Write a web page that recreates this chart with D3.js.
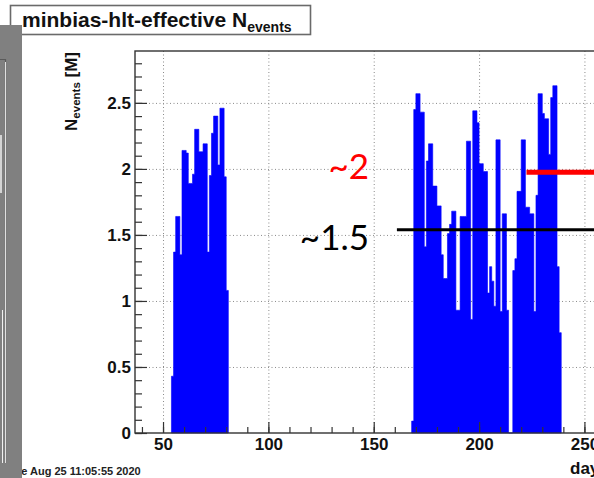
<!DOCTYPE html>
<html>
<head>
<meta charset="utf-8">
<script src="https://cdn.jsdelivr.net/npm/d3@7"></script>
<style>
  body { margin: 0; background: #fff; }
  svg { display: block; }
  text { font-family: "Liberation Sans", Arial, Helvetica, sans-serif; font-weight: bold; }
  text.note { font-family: Lato, "Open Sans", sans-serif; font-weight: normal; }
</style>
</head>
<body>
<div id="chart"></div>
<script>
// per-day N_events [M], two running periods
var run1Start = 54;
var run1Values = [0.43, 1.37, 1.64, 1.64, 1.35, 2.14, 2.14, 2.12, 1.89, 1.89, 1.96, 2.30, 2.30, 2.13,
                  2.13, 2.19, 2.19, 1.37, 1.95, 2.27, 2.40, 2.40, 2.03, 2.46, 2.46, 1.94, 1.08];
var run2Start = 168;
var run2Values = [0.09, 2.45, 2.57, 2.57, 2.43, 2.43, 1.41, 2.06, 2.19, 2.19, 1.87, 1.87, 1.72, 1.72,
                  1.35, 1.17, 1.17, 1.51, 1.58, 1.68, 1.68, 0.93, 0.93, 1.64, 1.64, 1.64, 2.21, 2.21,
                  0.86, 2.44, 2.44, 2.35, 2.04, 2.04, 1.98, 1.98, 1.06, 1.26, 1.15, 0.96, 2.22, 2.22,
                  0.92, 1.66, 1.66, 0.93, 0, 0, 1.23, 1.32, 1.83, 1.83, 2.22, 2.22, 1.71, 1.71,
                  1.66, 1.66, 0.92, 1.80, 2.57, 2.57, 2.42, 2.38, 2.38, 2.11, 2.54, 2.63, 2.63, 1.26, 0.76];

var xTicks = [50, 100, 150, 200, 250];
var yTicks = [0, 0.5, 1, 1.5, 2, 2.5];
var yTickLabels = ["0", "0.5", "1", "1.5", "2", "2.5"];

// hand drawn marks on the slide
var refLevels = [1.54, 1.975];
var refFrom = [161, 222.5];
var refLabels = ["~1.5", "~2"];
var refColors = ["#000000", "#ff0000"];

var titleText = "minbias-hlt-effective N";
var dateText = "Tue Aug 25 11:05:55 2020";

var width = 594, height = 478;
var frameLeft = 135, frameTop = 51, frameBottom = 433;
var pxPerDay = 2.107;
var xMin = 36.7, xMax = 300;
var yMax = 2.893;

var svg = d3.select("#chart").append("svg")
    .attr("width", width)
    .attr("height", height);

var xScale = d3.scaleLinear().domain([xMin, xMax]).range([frameLeft, frameLeft + (xMax - xMin) * pxPerDay]);
var yScale = d3.scaleLinear().domain([0, yMax]).range([frameBottom, frameTop]);
var frameRight = xScale(xMax);

// title box
svg.append("rect").attr("x", 10.5).attr("y", 5.5).attr("width", 300).attr("height", 29)
    .attr("fill", "#fff").attr("stroke", "#6a6a6a").attr("stroke-width", 1.6);
var t = svg.append("text").attr("x", 22).attr("y", 27).attr("font-size", 21).attr("fill", "#111")
    .text(titleText);
t.append("tspan").attr("font-size", 14).attr("dy", 5).text("events");

// grid (dotted)
var grid = svg.append("g").attr("stroke", "#8a8a8a").attr("stroke-width", 1).attr("stroke-dasharray", "1,2.5");
grid.selectAll(".gx").data(xTicks).enter().append("line")
    .attr("x1", function(d){ return xScale(d) + 0.5; }).attr("x2", function(d){ return xScale(d) + 0.5; })
    .attr("y1", frameTop).attr("y2", frameBottom);
grid.selectAll(".gy").data(yTicks.slice(1)).enter().append("line")
    .attr("x1", frameLeft).attr("x2", frameRight)
    .attr("y1", function(d){ return yScale(d) + 0.5; }).attr("y2", function(d){ return yScale(d) + 0.5; });

// histogram
function steps(start, vals) {
    var pts = vals.map(function(v, i){ return [start + i, v]; });
    pts.push([start + vals.length, vals[vals.length - 1]]);
    return pts;
}
var area = d3.area()
    .curve(d3.curveStepAfter)
    .x(function(d){ return xScale(d[0]); })
    .y0(yScale(0))
    .y1(function(d){ return yScale(d[1]); });

[steps(run1Start, run1Values), steps(run2Start, run2Values)].forEach(function(pts) {
    svg.append("path").attr("d", area(pts))
        .attr("fill", "#0000ff").attr("stroke", "#0000ff").attr("stroke-width", 0.6);
});

// axes
var yAxis = d3.axisLeft(yScale).tickValues(yTicks).tickSize(-12).tickSizeOuter(0).tickPadding(4)
    .tickFormat(function(d, i){ return yTickLabels[i]; });
var yMinor = d3.axisLeft(yScale).tickValues(d3.range(0, 29).map(function(i){ return i / 10; }))
    .tickSize(-7).tickSizeOuter(0).tickFormat("");
var xAxis = d3.axisBottom(xScale).tickValues(xTicks).tickSize(-11).tickSizeOuter(0).tickPadding(5)
    .tickFormat(d3.format("d"));
var xMinor = d3.axisBottom(xScale).tickValues(d3.range(40, 300, 10))
    .tickSize(-6).tickSizeOuter(0).tickFormat("");

[yMinor, yAxis].forEach(function(ax) {
    svg.append("g").attr("transform", "translate(" + frameLeft + ",0)").call(ax);
});
[xMinor, xAxis].forEach(function(ax) {
    svg.append("g").attr("transform", "translate(0," + frameBottom + ")").call(ax);
});
svg.selectAll(".domain").remove();
svg.selectAll(".tick line").attr("stroke", "#333").attr("stroke-width", 1.2);
svg.selectAll(".tick text").attr("font-size", 17).attr("font-family", "Liberation Sans, Arial, sans-serif")
    .attr("font-weight", "bold").attr("fill", "#111");

// frame
svg.append("rect").attr("x", frameLeft).attr("y", frameTop)
    .attr("width", frameRight - frameLeft).attr("height", frameBottom - frameTop)
    .attr("fill", "none").attr("stroke", "#333").attr("stroke-width", 1.4);

// axis titles
var yt = svg.append("text").attr("transform", "translate(77,52) rotate(-90)")
    .attr("text-anchor", "end").attr("font-size", 17).attr("fill", "#111").text("N");
yt.append("tspan").attr("font-size", 11.5).attr("dy", 3).text("events");
yt.append("tspan").attr("dy", -3).text(" [M]");

svg.append("text").attr("x", 570).attr("y", 474).attr("font-size", 17).attr("fill", "#111").text("days");

// reference lines drawn on top
refLevels.forEach(function(v, i) {
    svg.append("line")
        .attr("x1", xScale(refFrom[i])).attr("x2", width)
        .attr("y1", yScale(v)).attr("y2", yScale(v))
        .attr("stroke", refColors[i]).attr("stroke-width", i === 1 ? 5 : 3);
    svg.append("text").attr("class", "note").attr("x", 369).attr("y", yScale(v) + (i === 1 ? 7 : 20))
        .attr("text-anchor", "end").attr("font-size", 35).attr("fill", refColors[i])
        .text(refLabels[i]);
});

// date stamp, partly hidden by the neighbouring window
svg.append("text").attr("x", 8.6).attr("y", 475).attr("font-size", 11).attr("fill", "#222").text(dateText);

// neighbouring window on the left
svg.append("rect").attr("x", 0).attr("y", 25).attr("width", 22).attr("height", height - 25).attr("fill", "#808080");
svg.append("path").attr("d", "M0,59.5 H5.5 V463").attr("fill", "none").attr("stroke", "#5a5a5a").attr("stroke-width", 1.2);
svg.append("line").attr("x1", 5.5).attr("x2", 5.5).attr("y1", 62).attr("y2", 463).attr("stroke", "#e0e0e0").attr("stroke-width", 1);
svg.append("line").attr("x1", 2.5).attr("x2", 2.5).attr("y1", 310).attr("y2", 463).attr("stroke", "#f0f0f0").attr("stroke-width", 1);
svg.append("line").attr("x1", 1).attr("x2", 1).attr("y1", 135).attr("y2", 193).attr("stroke", "#f0f0f0").attr("stroke-width", 1.5);
</script>
</body>
</html>
